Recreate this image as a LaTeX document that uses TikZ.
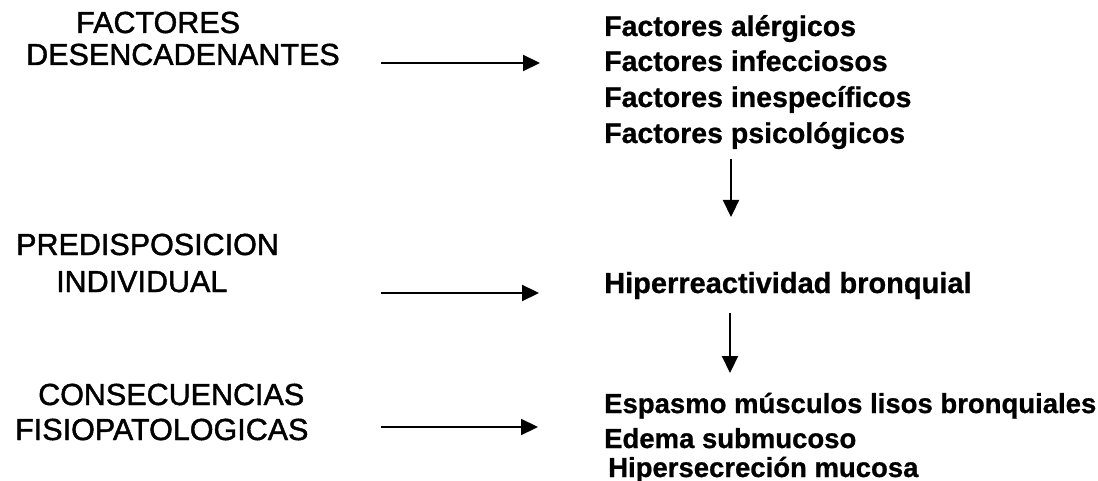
\documentclass[tikz,border=0pt]{standalone}
\usepackage{fontspec}
\setmainfont{Liberation Sans}
\newfontfamily\lfont{Liberation Sans}[FakeBold=1.4]
\newfontfamily\rfont{Liberation Sans}[BoldFeatures={FakeBold=0.8}]
\usetikzlibrary{arrows.meta}
\tikzset{
  lefttxt/.style={anchor=base west, inner sep=0pt, font=\lfont\fontsize{30.5}{36}\selectfont},
  righttxt/.style={anchor=base west, inner sep=0pt, font=\rfont\bfseries\fontsize{28.5}{34}\selectfont},
  flow/.style={line width=2.2pt, -{Triangle[length=17pt,width=16pt]}}
}
\begin{document}
\begin{tikzpicture}[x=1pt,y=-1pt]
\useasboundingbox (0,0) rectangle (1098,481);
% left labels
\node[lefttxt] (l1a) at (76,33) {FACTORES};
\node[lefttxt] (l1b) at (26,65) {DESENCADENANTES};
\node[lefttxt] (l2a) at (16,255) {PREDISPOSICION};
\node[lefttxt] (l2b) at (56,292) {INDIVIDUAL};
\node[lefttxt] (l3a) at (38,405) {CONSECUENCIAS};
\node[lefttxt] (l3b) at (15,440) {FISIOPATOLOGICAS};
% right texts
\node[righttxt] (r1) at (604,36) {Factores alérgicos};
\node[righttxt] (r2) at (604,71) {Factores infecciosos};
\node[righttxt] (r3) at (604,107) {Factores inespecíficos};
\node[righttxt] (r4) at (604,143) {Factores psicológicos};
\node[righttxt, font=\rfont\bfseries\fontsize{29}{34}\selectfont] (h) at (604,293) {Hiperreactividad bronquial};
\node[righttxt, font=\rfont\bfseries\fontsize{27.5}{34}\selectfont] (c1) at (604,413) {Espasmo músculos lisos bronquiales};
\node[righttxt, font=\rfont\bfseries\fontsize{27.5}{34}\selectfont] (c2) at (604,448) {Edema submucoso};
\node[righttxt, font=\rfont\bfseries\fontsize{27.5}{34}\selectfont] (c3) at (608,477) {Hipersecreción mucosa};
% arrow end points
\coordinate (a1s) at (381,63);  \coordinate (a1e) at (540,63);
\coordinate (a2s) at (381,293); \coordinate (a2e) at (539,293);
\coordinate (a3s) at (381,427); \coordinate (a3e) at (538,427);
\coordinate (v1s) at (731,159); \coordinate (v1e) at (731,217);
\coordinate (v2s) at (730,313); \coordinate (v2e) at (730,373);
\draw[flow] (a1s) -- (a1e);
\draw[flow] (a2s) -- (a2e);
\draw[flow] (a3s) -- (a3e);
\draw[flow] (v1s) -- (v1e);
\draw[flow] (v2s) -- (v2e);
\end{tikzpicture}
\end{document}
